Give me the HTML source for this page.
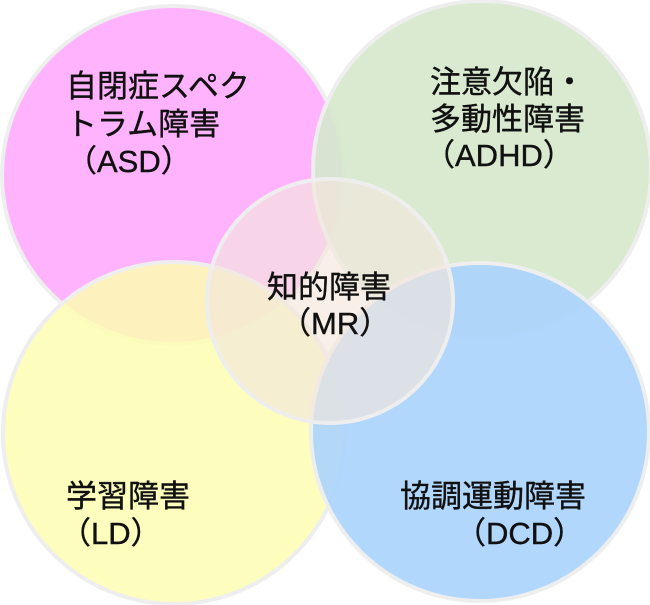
<!DOCTYPE html>
<html><head><meta charset="utf-8"><style>
html,body{margin:0;padding:0;background:#fff;overflow:hidden;}
svg{display:block;}
text{font-family:"Liberation Sans","Noto Sans CJK JP",sans-serif;font-size:31px;fill:#111;stroke:#111;stroke-width:0.4;}
</style></head><body>
<svg width="650" height="605" viewBox="0 0 650 605" xmlns="http://www.w3.org/2000/svg">
<g stroke="#eeeeee" stroke-width="4">
<ellipse cx="173" cy="175" rx="171" ry="169" fill="#ffb3fd"/>
<ellipse cx="482" cy="170" rx="169" ry="169" fill="#d5e8cc" fill-opacity="0.9"/>
<ellipse cx="174" cy="433" rx="171" ry="171" fill="#fdfdb3" fill-opacity="0.85"/>
<ellipse cx="480" cy="432" rx="169" ry="169" fill="#aad3fd" fill-opacity="0.9"/>
<ellipse cx="330" cy="301" rx="123" ry="122" fill="#f3e6dc" fill-opacity="0.65"/>
</g>
<text x="66" y="97">自閉症スペク</text>
<text x="66" y="135">トラム障害</text>
<text x="66" y="172">（ASD）</text>
<text x="430" y="93">注意欠陥・</text>
<text x="430" y="130">多動性障害</text>
<text x="424" y="166">（ADHD）</text>
<text x="267" y="298">知的障害</text>
<text x="280" y="334">（MR）</text>
<text x="66" y="507">学習障害</text>
<text x="60" y="544">（LD）</text>
<text x="400" y="507">協調運動障害</text>
<text x="455" y="544">（DCD）</text>
</svg>
</body></html>
